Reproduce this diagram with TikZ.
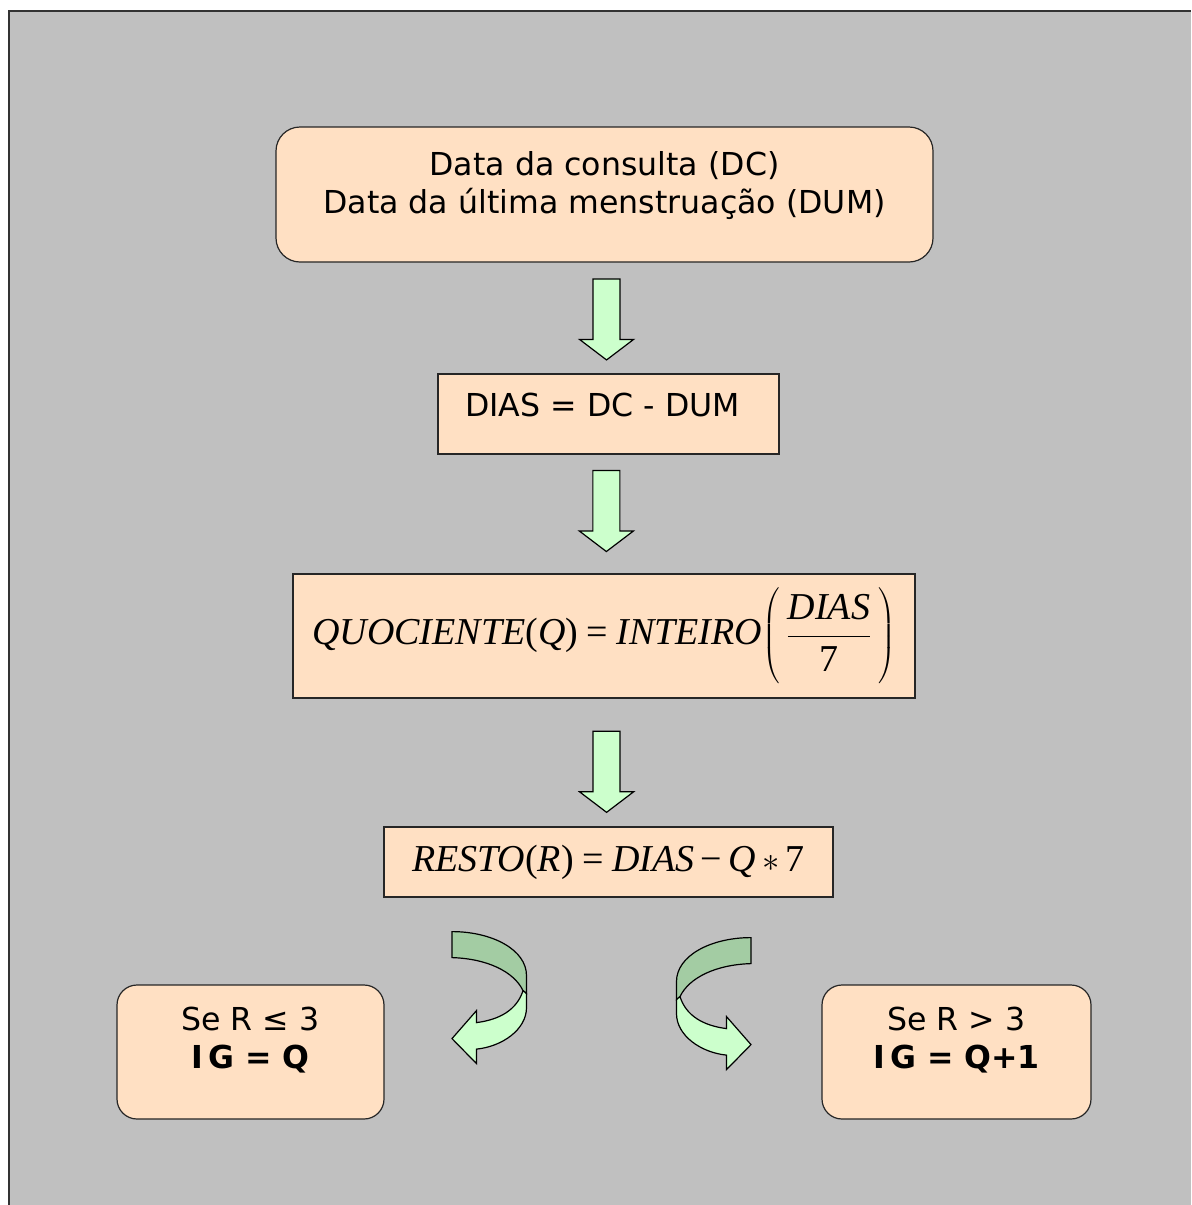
\documentclass[tikz,border=0pt]{standalone}
\usepackage{fontspec}
\setmainfont{DejaVu Sans}
\newfontfamily\tnr{Liberation Serif}
\usetikzlibrary{calc}
\definecolor{pagegray}{RGB}{192,192,192}
\definecolor{peach}{RGB}{255,224,195}
\definecolor{mint}{RGB}{204,255,204}
\definecolor{sage}{RGB}{163,204,163}

\begin{document}
\begin{tikzpicture}[x=0.5pt, y=-0.5pt,
  box/.style = {draw=black!85, fill=peach, line width=0.6pt, inner sep=0pt, align=center,
                font=\fontsize{15.8}{19}\selectfont},
  roundbox/.style = {box, rounded corners=12pt},
  formula/.style = {box, font=\fontsize{19}{23}\selectfont\tnr},
  blockarrow/.style = {draw=black, fill=mint, line width=0.6pt},
  backside/.style = {draw=black, fill=sage, line width=0.6pt},
  downarrow/.pic = {
    \draw[blockarrow] (-13.5,-40.5) -- (13.5,-40.5) -- (13.5,20) -- (27,20) -- (0,40.5)
      -- (-27,20) -- (-13.5,20) -- cycle;
  },
  turnarrow/.pic = {
    \draw[backside] (0,0) .. controls (40,0) and (74.5,18) .. (74.5,44) -- (74.5,62)
      -- (71,59) .. controls (62,40) and (35,27) .. (0,26) -- cycle;
    \draw[blockarrow] (71,59) -- (74.5,62) -- (74.5,76) .. controls (74.5,98) and (50,115) .. (24.5,117.5)
      -- (24.5,132) -- (0,107) -- (24.5,79) -- (24.5,91) .. controls (48,88) and (65,78) .. (71,59) -- cycle;
  }]
  \useasboundingbox (0,0) rectangle (1191,1205);
  \fill[pagegray] (9,11) rectangle (1191,1205);
  \draw[black!80, line width=1pt] (9,1205) -- (9,11) -- (1191,11);

  % boxes
  \node[roundbox, minimum width=328.5pt, minimum height=67.5pt, text depth=12.5pt] (consulta) at (604.5,194.5)
    {Data da consulta (DC)\\Data da última menstruação (DUM)};
  \node[box, minimum width=170.5pt, minimum height=40pt, text depth=9.5pt] (dias) at (608.5,414)
    {DIAS = DC - DUM\hspace{6pt}};
  \node[formula, minimum width=311pt, minimum height=62pt] (quociente) at (604,636)
    {\itshape QUOCIENTE\upshape(\textit{Q})\:=\:\textit{INTEIRO}$\displaystyle\left(\,\frac{\mbox{\strut\itshape DIAS}}{\mbox{\strut 7}}\,\right)$};
  \node[formula, minimum width=224.5pt, minimum height=35pt] (resto) at (608.5,862)
    {\itshape RESTO\upshape(\textit{R})\:=\:\textit{DIAS}\,−\,\textit{Q}\,$\ast$\,7};
  \node[roundbox, rounded corners=10pt, minimum width=133.5pt, minimum height=67pt, text depth=14pt] (menor) at (250.5,1052)
    {Se R ≤ 3\\\textbf{I\,G = Q}};
  \node[roundbox, rounded corners=10pt, minimum width=134.5pt, minimum height=67pt, text depth=14pt] (maior) at (956.5,1052)
    {Se R > 3\\\textbf{I\,G = Q+1}};

  % arrows
  \pic at ($(consulta.south)!0.513!(dias.north)$) {downarrow};
  \pic at ($(dias.south)!0.475!(quociente.north)$) {downarrow};
  \pic at ($(quociente.south)!0.573!(resto.north)$) {downarrow};
  \pic at ($(resto.south)+(-156.5,34)$) {turnarrow};
  \pic[xscale=-1] at ($(resto.south)+(142.5,40)$) {turnarrow};
\end{tikzpicture}
\end{document}
